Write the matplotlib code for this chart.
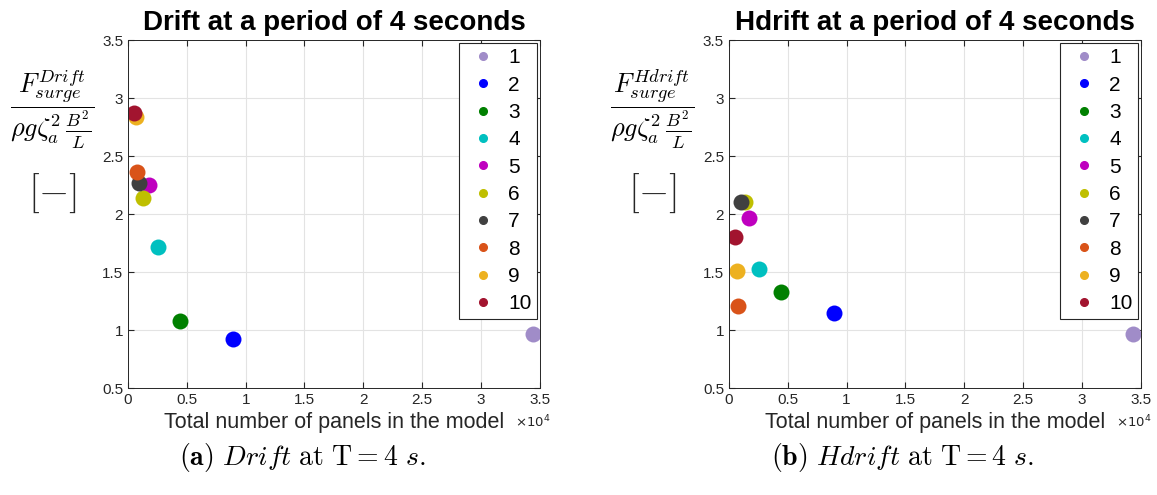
# -*- coding: utf-8 -*-
"""Drift and Hdrift surge force against panel count, period of 4 s."""

import matplotlib
matplotlib.use("Agg")
import matplotlib.pyplot as plt
from matplotlib.lines import Line2D
from matplotlib.ticker import FuncFormatter

plt.rcParams['font.family'] = ['Liberation Sans', 'DejaVu Sans']
plt.rcParams['mathtext.fontset'] = 'cm'

labels = ["1", "2", "3", "4", "5", "6", "7", "8", "9", "10"]
colors = ['#A08CC8', '#0000FF', '#008000', '#00C0C0', '#BF00BF',
          '#BFBF00', '#404040', '#D95319', '#EDB120', '#A2142F']

# total number of panels for each mesh
panels_drift = [34400, 8900, 4400, 2550, 1800, 1300, 950, 770, 680, 500]
panels_hdrift = [34300, 8900, 4400, 2550, 1700, 1360, 1000, 770, 680, 500]

# normalised surge force
drift = [0.97, 0.92, 1.08, 1.72, 2.25, 2.14, 2.27, 2.36, 2.84, 2.87]
hdrift = [0.97, 1.15, 1.33, 1.53, 1.97, 2.10, 2.10, 1.21, 1.51, 1.80]

titles = ["Drift at a period of 4 seconds", "Hdrift at a period of 4 seconds"]
ylabels = [r'$\dfrac{F_{surge}^{Drift}}{\rho g \zeta_a^2\,\frac{B^2}{L}}$',
           r'$\dfrac{F_{surge}^{Hdrift}}{\rho g \zeta_a^2\,\frac{B^2}{L}}$']
captions = [r'$\mathbf{(a)}\ \mathit{Drift}\ \mathrm{at\ T} = 4\ s.$',
            r'$\mathbf{(b)}\ \mathit{Hdrift}\ \mathrm{at\ T} = 4\ s.$']


def draw_panel(fig, rect, xs, ys, title, ylabel, caption, lab_x, cap_x):
    ax = fig.add_axes(rect)
    for x, y, c in zip(xs, ys, colors):
        ax.plot(x, y, 'o', color=c, markersize=11.5, markeredgewidth=0)
    ax.set_xlim(0, 35000)
    ax.set_ylim(0.5, 3.5)
    ax.set_xticks([i * 5000 for i in range(8)])
    ax.set_yticks([0.5 + 0.5 * i for i in range(7)])
    ax.xaxis.set_major_formatter(FuncFormatter(lambda v, p: "%g" % (v / 1e4)))
    ax.yaxis.set_major_formatter(FuncFormatter(lambda v, p: "%g" % v))
    ax.grid(True, color='#E3E3E3', linewidth=0.8)
    ax.set_axisbelow(True)
    for s in ax.spines.values():
        s.set_color('#262626')
        s.set_linewidth(0.7)
    ax.tick_params(direction='in', length=4, labelsize=11, colors='#262626',
                   top=True, right=True, labeltop=False, labelright=False)
    ax.set_title(title, fontsize=20, fontweight='bold', pad=7)
    ax.set_xlabel("Total number of panels in the model", fontsize=15.5,
                  color='#262626')
    ax.xaxis.set_label_coords(0.5, -0.068)
    ax.text(1.025, -0.098, r'$\times10^4$', transform=ax.transAxes,
            fontsize=9.5, color='#262626', ha='right', va='center',
            math_fontfamily='dejavusans')

    handles = [Line2D([], [], linestyle='none', marker='o', color=c,
                      markersize=5.5) for c in colors]
    leg = ax.legend(handles, labels, loc='upper right', fontsize=15,
                    fancybox=False, edgecolor='#262626', framealpha=1,
                    handletextpad=0.3, labelspacing=0.4, borderpad=0.25,
                    borderaxespad=0.15, handlelength=1.8)
    leg.get_frame().set_linewidth(0.8)

    fig.text(lab_x, 0.78, ylabel, fontsize=19, ha='center', va='center')
    fig.text(lab_x, 0.61, r'$[-]$', fontsize=28, ha='center',
             va='center', color='#262626')
    fig.text(cap_x, 0.075, caption, fontsize=20, ha='center', va='center')


def main():
    fig = plt.figure(figsize=(11.57, 4.95), dpi=100)
    draw_panel(fig, [0.1106, 0.216, 0.356, 0.703], panels_drift, drift,
               titles[0], ylabels[0], captions[0], 0.045, 0.261)
    draw_panel(fig, [0.630, 0.216, 0.356, 0.703], panels_hdrift, hdrift,
               titles[1], ylabels[1], captions[1], 0.564, 0.78)
    fig.savefig("out.png", dpi=100)


if __name__ == "__main__":
    main()
